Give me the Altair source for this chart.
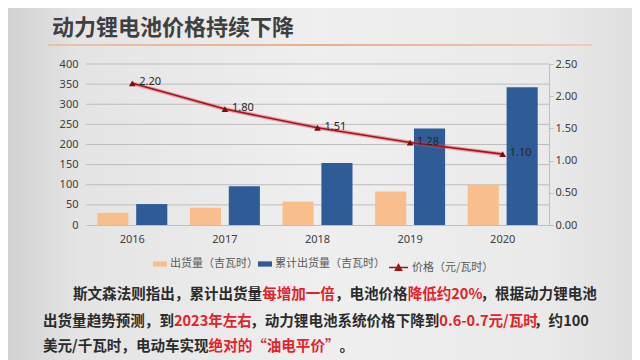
import altair as alt
import pandas as pd

# ---------------- data ----------------
years = ["2016", "2017", "2018", "2019", "2020"]
shipments = [30, 43, 58, 83, 100]          # 出货量（吉瓦时）
cumulative = [52, 96, 154, 240, 342]       # 累计出货量（吉瓦时）
price = [2.20, 1.80, 1.51, 1.28, 1.10]     # 价格（元/瓦时）

bar_series = ["出货量（吉瓦时）", "累计出货量（吉瓦时）"]
price_series = "价格（元/瓦时）"
left_ticks = [0, 50, 100, 150, 200, 250, 300, 350, 400]
right_ticks = [0, 0.5, 1.0, 1.5, 2.0, 2.5]

title_text = "动力锂电池价格持续下降"

para_line1 = [("斯文森法则指出，累计出货量", "k"), ("每增加一倍", "r"), ("，电池价格", "k"),
              ("降低约20%", "r"), ("，根据动力锂电池", "k")]
para_line2 = [("出货量趋势预测，到", "k"), ("2023年左右", "r"), ("，动力锂电池系统价格下降到", "k"),
              ("0.6-0.7元/瓦时", "r"), ("，约100", "k")]
para_line3 = [("美元/千瓦时，电动车实现", "k"), ("绝对的“油电平价”", "r"), ("。", "k")]

# ---------------- layout helpers ----------------
W, H = 463, 161
ORIGIN_X, ORIGIN_Y = 86, 64  # page position of plot area

ORANGE = "#F8BF8C"
BLUE = "#2F5C97"
DARKRED = "#A0121C"
CJK = "Noto Sans CJK SC"

bars_df = pd.DataFrame({
    "year": years * 2,
    "series": [bar_series[0]] * 5 + [bar_series[1]] * 5,
    "value": shipments + cumulative,
})
line_df = pd.DataFrame({"year": years, "price": price, "s": [price_series] * 5})
grid_df = pd.DataFrame({"value": left_ticks[1:]})

x_enc = alt.X("year:N", title=None,
              scale=alt.Scale(paddingInner=0.244, paddingOuter=0.122),
              axis=alt.Axis(labelAngle=0, ticks=False, domain=True, domainColor="#BFBFBF",
                            labelFont="Noto Sans", labelFontSize=11, labelColor="#404040",
                            labelPadding=8, zindex=1))

y_left = alt.Y("value:Q", title=None, scale=alt.Scale(domain=[0, 400], nice=False),
               axis=alt.Axis(values=left_ticks, domain=False, ticks=False, grid=False,
                             labelOverlap=False, labelFont="Noto Sans", labelFontSize=11,
                             labelColor="#404040", labelPadding=8, zindex=1))

grid = alt.Chart(grid_df).mark_rule(color="#BDBDBD", strokeWidth=1).encode(y=y_left)

bars = alt.Chart(bars_df).mark_bar().encode(
    x=x_enc,
    xOffset=alt.XOffset("series:N", sort=bar_series, scale=alt.Scale(paddingInner=0.2)),
    y=y_left,
    color=alt.Color("series:N", sort=bar_series,
                    scale=alt.Scale(domain=bar_series, range=[ORANGE, BLUE]),
                    legend=alt.Legend(title=None, orient="none", direction="horizontal",
                                      legendX=153 - ORIGIN_X, legendY=257 - ORIGIN_Y,
                                      symbolType="M-1,-0.38H1V0.38H-1Z", symbolSize=196,
                                      symbolStrokeWidth=0, labelFont=CJK, labelFontSize=11,
                                      labelColor="#595959", labelOffset=3, columnPadding=0)),
)

bar_layer = alt.layer(grid, bars)

y_right = alt.Y("price:Q", title=None, scale=alt.Scale(domain=[0, 2.5], nice=False),
                axis=alt.Axis(orient="right", values=right_ticks, format=".2f", grid=False,
                              domain=True, domainColor="#BFBFBF", ticks=True, tickColor="#BFBFBF",
                              tickSize=4, labelOverlap=False, labelFont="Noto Sans",
                              labelFontSize=11, labelColor="#404040", labelPadding=2, zindex=1))

glow = alt.Chart(line_df).mark_line(strokeWidth=4, opacity=0.45, color="#E24A55").encode(
    x=alt.X("year:N"), y=y_right)
line = alt.Chart(line_df).mark_line(strokeWidth=1.6).encode(
    x=alt.X("year:N"), y=y_right,
    stroke=alt.Stroke("s:N", scale=alt.Scale(domain=[price_series], range=[DARKRED]),
                      legend=alt.Legend(title=None, orient="none", direction="horizontal",
                                        legendX=388 - ORIGIN_X, legendY=257 - ORIGIN_Y,
                                        symbolType="M-1,0H1M-0.32,0.3L0,-0.3L0.32,0.3Z",
                                        symbolSize=361, symbolStrokeWidth=1.5,
                                        symbolFillColor=DARKRED,
                                        labelFont=CJK, labelFontSize=11, labelColor="#595959",
                                        labelOffset=3)),
)
pts = alt.Chart(line_df).mark_point(shape="triangle-up", filled=True, size=45,
                                     color="#7E0A12", opacity=1).encode(
    x=alt.X("year:N"), y=y_right)
lbls = alt.Chart(line_df).mark_text(align="left", baseline="middle", dx=7, dy=-1,
                                     font="Noto Sans", fontSize=11, color="#262626").encode(
    x=alt.X("year:N"), y=y_right, text=alt.Text("price:Q", format=".2f"))

price_layer = alt.layer(glow, line, pts, lbls)

one = alt.Data(values=[{}])

bg = alt.Chart(one).mark_rect(
    fill=alt.LinearGradient(gradient="linear", x1=0, x2=1, y1=0, y2=0,
                            stops=[alt.GradientStop(color="#CFCFCF", offset=0),
                                   alt.GradientStop(color="#E4E4E4", offset=0.12),
                                   alt.GradientStop(color="#EFEFEF", offset=0.5),
                                   alt.GradientStop(color="#EAEAEA", offset=0.85),
                                   alt.GradientStop(color="#DEDEDE", offset=1)])
).encode(x=alt.value(-ORIGIN_X), x2=alt.value(640 - ORIGIN_X),
         y=alt.value(-ORIGIN_Y), y2=alt.value(360 - ORIGIN_Y))

underline = alt.Chart(one).mark_rect(
    fill=alt.LinearGradient(gradient="linear", x1=0, x2=1, y1=0, y2=0,
                            stops=[alt.GradientStop(color="#E9C2A8", offset=0),
                                   alt.GradientStop(color="#E8AE8E", offset=0.5),
                                   alt.GradientStop(color="#EECDB8", offset=1)])
).encode(x=alt.value(48 - ORIGIN_X), x2=alt.value(592 - ORIGIN_X),
         y=alt.value(44 - ORIGIN_Y), y2=alt.value(46 - ORIGIN_Y))

title = alt.Chart(one).mark_text(text=title_text, font=CJK, fontSize=22, fontWeight="bold",
                                 color="#3F3F3F", align="left", baseline="middle").encode(
    x=alt.value(52 - ORIGIN_X), y=alt.value(28 - ORIGIN_Y))


def char_w(c):
    if c.isdigit():
        return 0.56
    return {".": 0.27, "-": 0.35, "/": 0.38, "%": 0.88}.get(c, 1.0)


FS = 14.55
colors = {"k": "#2B2B2B", "r": "#E3222A"}
para_layers = []
for segs, x0, yc in [(para_line1, 73, 295), (para_line2, 43, 322), (para_line3, 43, 347)]:
    cx = x0
    for txt, col in segs:
        para_layers.append(
            alt.Chart(one).mark_text(text=txt, font=CJK, fontSize=FS, fontWeight="bold",
                                     color=colors[col], align="left", baseline="middle").encode(
                x=alt.value(cx - ORIGIN_X), y=alt.value(yc - ORIGIN_Y)))
        cx += sum(char_w(c) for c in txt) * FS

chart = alt.layer(bg, underline, title, bar_layer, price_layer, *para_layers).resolve_scale(
    y="independent"
).properties(
    width=W, height=H,
    autosize=alt.AutoSizeParams(type="none"),
    padding={"left": ORIGIN_X - 8, "top": ORIGIN_Y - 8,
             "right": 624 - (ORIGIN_X - 8) - W, "bottom": 352 - (ORIGIN_Y - 8) - H},
    background="#E9E9E9",
).configure_view(stroke=None)

chart.save("out.html", embed_options={"renderer": "svg", "actions": False})
